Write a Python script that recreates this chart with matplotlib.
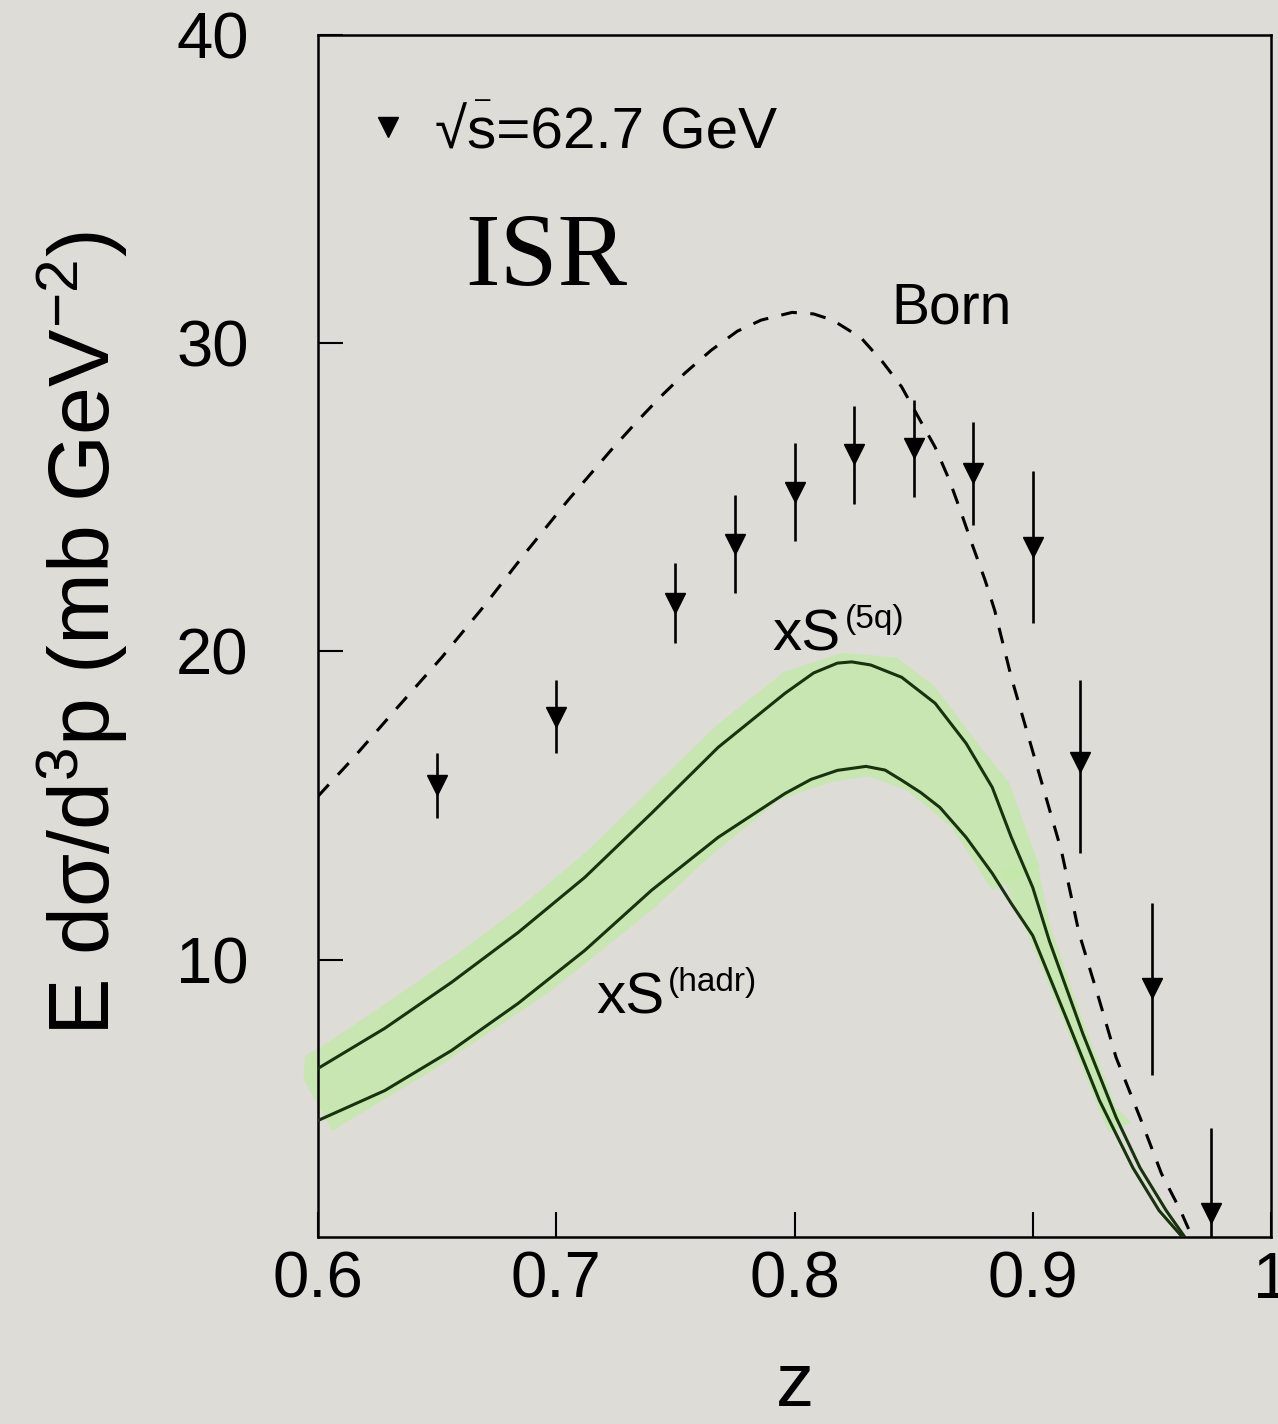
import matplotlib
matplotlib.use("Agg")
import matplotlib.pyplot as plt

# ---------------- data ----------------
z_data = [0.65, 0.70, 0.75, 0.775, 0.80, 0.825, 0.85, 0.875, 0.90, 0.92, 0.95, 0.975]
v_data = [15.68, 17.86, 21.56, 23.47, 25.16, 26.40, 26.59, 25.78, 23.38, 16.40, 9.09, 1.79]
v_high = [16.72, 19.06, 22.86, 25.06, 26.75, 27.95, 28.15, 27.44, 25.84, 19.06, 11.85, 4.55]
v_low  = [14.58, 16.69, 20.26, 21.88, 23.57, 24.77, 25.00, 24.09, 20.91, 13.47, 6.27, 0.50]

born_z = [0.600, 0.605, 0.614, 0.633, 0.652, 0.670, 0.687, 0.705, 0.723, 0.734, 0.744,
          0.754, 0.765, 0.776, 0.786, 0.799, 0.808, 0.816, 0.828, 0.837, 0.845, 0.852,
          0.859, 0.865, 0.870, 0.875, 0.880, 0.884, 0.891, 0.912, 0.9195, 0.928, 0.935,
          0.945, 0.954, 0.962, 0.967, 0.972]
born_v = [15.3, 15.72, 16.47, 18.15, 19.81, 21.50, 23.19, 24.91, 26.53, 27.47, 28.28,
          29.03, 29.77, 30.39, 30.75, 31.0, 30.95, 30.75, 30.17, 29.39, 28.58, 27.60,
          26.63, 25.56, 24.49, 23.38, 22.31, 21.34, 19.16, 13.54, 10.84, 8.67, 6.82,
          4.88, 3.06, 1.86, 0.98, 0.3]

q5_z = [0.600, 0.628, 0.656, 0.684, 0.712, 0.740, 0.768, 0.796, 0.808, 0.818, 0.824,
        0.832, 0.845, 0.859, 0.872, 0.883, 0.891, 0.900, 0.907, 0.921, 0.935, 0.945,
        0.956, 0.964, 0.970]
q5_v = [6.47, 7.77, 9.26, 10.88, 12.67, 14.75, 16.89, 18.64, 19.30, 19.62, 19.66,
        19.56, 19.16, 18.32, 17.02, 15.59, 13.97, 12.34, 10.6, 7.6, 4.88, 3.25,
        1.86, 0.98, 0.4]

hadr_z = [0.600, 0.628, 0.656, 0.684, 0.712, 0.740, 0.768, 0.796, 0.807, 0.818, 0.830,
          0.838, 0.845, 0.853, 0.861, 0.872, 0.883, 0.891, 0.900, 0.914, 0.928, 0.942,
          0.953, 0.963, 0.969]
hadr_v = [4.78, 5.75, 7.05, 8.58, 10.30, 12.25, 13.97, 15.39, 15.85, 16.14, 16.27,
          16.15, 15.82, 15.42, 14.94, 13.97, 12.80, 11.82, 10.78, 8.12, 5.43, 3.25,
          1.86, 0.98, 0.4]

# uncertainty band outline (main part and narrow tail)
band_z = [0.5945, 0.600, 0.628, 0.656, 0.684, 0.712, 0.740, 0.768, 0.796, 0.820, 0.843,
          0.859, 0.878, 0.890, 0.903, 0.883, 0.866, 0.847, 0.831, 0.815, 0.794, 0.766,
          0.740, 0.698, 0.650, 0.606, 0.594]
band_v = [6.9, 7.1, 8.55, 10.05, 11.65, 13.45, 15.55, 17.65, 19.35, 19.95, 19.8,
          18.85, 16.9, 15.75, 13.0, 12.25, 14.3, 15.5, 15.95, 15.75, 15.2, 13.45,
          11.6, 9.0, 6.5, 4.45, 6.1]
tail_z = [0.886, 0.902, 0.907, 0.921, 0.935, 0.9415, 0.932, 0.928, 0.914, 0.900]
tail_v = [12.9, 13.1, 11.2, 8.0, 5.2, 4.7, 4.4, 5.1, 7.8, 10.45]

xticks = [0.6, 0.7, 0.8, 0.9, 1.0]
xticklabels = ["0.6", "0.7", "0.8", "0.9", "1"]
yticks = [10, 20, 30, 40]
yticklabels = ["10", "20", "30", "40"]

# ---------------- style ----------------
plt.rcParams['font.family'] = ['Liberation Sans', 'DejaVu Sans']
plt.rcParams['mathtext.fontset'] = 'custom'
plt.rcParams['mathtext.rm'] = 'Liberation Sans'
plt.rcParams['mathtext.it'] = 'Liberation Sans:italic'
plt.rcParams['mathtext.bf'] = 'Liberation Sans:bold'
plt.rcParams['mathtext.sf'] = 'Liberation Sans'
plt.rcParams['mathtext.default'] = 'regular'

BG = '#dddcd6'
LINE = '#17330d'

fig = plt.figure(figsize=(12.78, 14.24), dpi=100, facecolor=BG)
ax = fig.add_axes([318/1278, 1 - 1237/1424, (1271-318)/1278, (1237-35)/1424])
ax.set_facecolor(BG)

# band
ax.fill(band_z, band_v, color='#c2eaa6', alpha=0.75, lw=0, zorder=1, clip_on=False)
ax.fill(tail_z, tail_v, color='#c2eaa6', alpha=0.75, lw=0, zorder=1)

# curves
ax.plot(q5_z, q5_v, color=LINE, lw=2.2, zorder=3, solid_joinstyle='round')
ax.plot(hadr_z, hadr_v, color=LINE, lw=2.2, zorder=3, solid_joinstyle='round')
ax.plot(born_z, born_v, color='black', lw=2.2, dashes=(5.2, 4.4), zorder=3)

# data
yerr = [[v - lo for v, lo in zip(v_data, v_low)], [hi - v for v, hi in zip(v_data, v_high)]]
ax.errorbar(z_data, v_data, yerr=yerr, fmt='v', color='black', ms=14, lw=1.9,
            capsize=0, zorder=4)

# texts
ax.plot([0.6295], [37.0], marker='v', color='black', ms=14, ls='none')
ax.text(0.649, 36.33, '\u221as=62.7 GeV', fontsize=42, va='baseline', ha='left')
ax.text(0.6693, 37.67, '\u2013', fontsize=20, va='baseline', ha='center')
ax.text(0.6617, 31.88, 'ISR', fontsize=75, family='Liberation Serif', va='baseline', ha='left')
ax.text(0.8405, 30.65, 'Born', fontsize=41, va='baseline', ha='left')
t1 = ax.text(0.7906, 20.03, 'xS', fontsize=42, va='baseline', ha='left')
ax.annotate('(5q)', xy=(1, 0), xycoords=t1, xytext=(3, 25), textcoords='offset points',
            fontsize=24, va='baseline', ha='left')
t2 = ax.text(0.7167, 8.25, 'xS', fontsize=42, va='baseline', ha='left')
ax.annotate('(hadr)', xy=(1, 0), xycoords=t2, xytext=(3, 25), textcoords='offset points',
            fontsize=24, va='baseline', ha='left')

# axes
ax.set_xlim(0.6, 1.0)
ax.set_ylim(1, 40)
ax.set_xticks(xticks)
ax.set_xticklabels(xticklabels)
ax.set_yticks(yticks)
ax.set_yticklabels(yticklabels)
ax.tick_params(axis='both', direction='in', length=18, width=1.5, labelsize=47)
ax.tick_params(axis='y', pad=50)
ax.tick_params(axis='x', pad=10)
for s in ax.spines.values():
    s.set_linewidth(1.8)

ax.set_xlabel('z', fontsize=55, va='baseline')
ax.xaxis.set_label_coords(0.5, -0.141)
ax.set_ylabel(r'E d$\sigma$/d$^{3}$p (mb GeV$^{-2}$)', fontsize=62)
ax.yaxis.set_label_coords(-0.197, 0.502)

fig.savefig('out.png', dpi=100, facecolor=BG)
